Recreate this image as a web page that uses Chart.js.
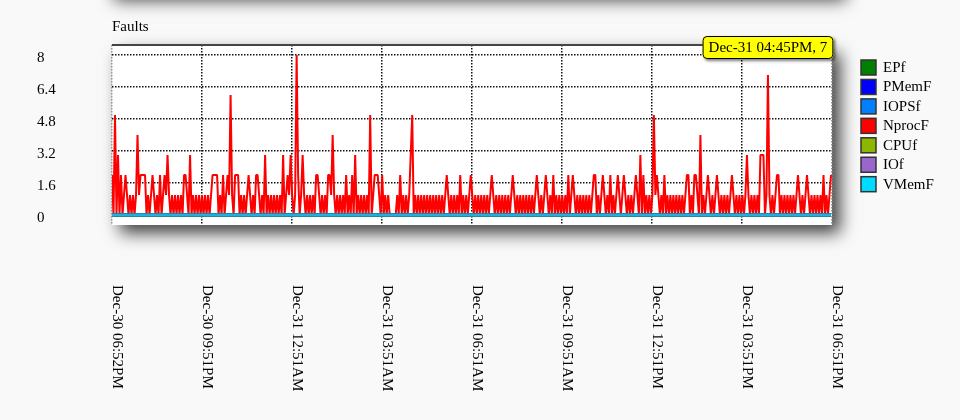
<!DOCTYPE html>
<html>
<head>
<title>Faults</title>
<script src="https://cdn.jsdelivr.net/npm/chart.js@4.4.1/dist/chart.umd.min.js"></script>
<style>
    html, body { margin: 0; padding: 0; background: #f9f9f9; }
    canvas { display: block; }
</style>
</head>
<body>
<canvas id="chart" width="960" height="420"></canvas>
<script>
// series shown in the legend, in legend order
const seriesNames = ['EPf', 'PMemF', 'IOPSf', 'NprocF', 'CPUf', 'IOf', 'VMemF']
const legendColors = ['#008000', '#0000ff', '#0080ff', '#ff0000', '#8db600', '#9966cc', '#00dcff']
const lineColors = ['#008000', '#0000ff', '#0080ff', '#ff0000', '#8db600', '#9966cc', '#1fb0e0']

const yTicks = [0, 1.6, 3.2, 4.8, 6.4, 8]
// minutes after the first sample (Dec-30 06:52PM)
const xTickMinutes = [0, 179, 359, 539, 719, 899, 1079, 1259, 1439]
const xTickLabels = [
    'Dec-30 06:52PM', 'Dec-30 09:51PM', 'Dec-31 12:51AM', 'Dec-31 03:51AM', 'Dec-31 06:51AM',
    'Dec-31 09:51AM', 'Dec-31 12:51PM', 'Dec-31 03:51PM', 'Dec-31 06:51PM',
]
const sampleStep = 3 // minutes between samples

// NprocF faults per sample
const nprocF = [
    2, 0, 5, 0, 3, 0, 2, 0, 1, 2, 1, 0, 1, 0, 1, 0, 1, 4, 1, 2,
    2, 2, 2, 0, 1, 0, 1, 2, 1, 0, 1, 0, 2, 0, 1, 2, 1, 3, 1, 0,
    1, 0, 1, 0, 1, 0, 1, 0, 2, 2, 1, 0, 3, 0, 1, 0, 1, 0, 1, 0,
    1, 0, 1, 0, 1, 0, 1, 2, 2, 2, 2, 0, 1, 0, 2, 0, 1, 2, 1, 6,
    1, 0, 2, 2, 2, 0, 1, 0, 1, 0, 1, 2, 1, 0, 1, 0, 2, 2, 1, 0,
    1, 0, 3, 0, 1, 0, 1, 0, 1, 0, 1, 0, 1, 0, 3, 0, 1, 2, 1, 3,
    1, 0, 1, 8, 2, 0, 1, 3, 1, 0, 1, 0, 1, 0, 1, 0, 2, 2, 1, 0,
    1, 0, 1, 0, 2, 2, 1, 4, 1, 0, 1, 0, 1, 0, 1, 0, 2, 0, 1, 0,
    2, 0, 3, 0, 1, 0, 1, 0, 1, 0, 1, 0, 5, 0, 1, 2, 2, 2, 1, 0,
    2, 0, 1, 0, 1, 0, 0, 0, 0, 0, 1, 0, 2, 0, 1, 0, 1, 0, 1, 3,
    5, 0, 1, 0, 1, 0, 1, 0, 1, 0, 1, 0, 1, 0, 1, 0, 1, 0, 1, 0,
    1, 0, 1, 2, 1, 0, 1, 0, 1, 0, 1, 0, 2, 0, 1, 0, 1, 0, 1, 2,
    1, 0, 1, 0, 1, 0, 1, 0, 1, 0, 1, 0, 1, 2, 1, 0, 1, 0, 1, 0,
    1, 0, 1, 0, 1, 0, 1, 2, 1, 0, 1, 0, 1, 0, 1, 0, 1, 0, 1, 0,
    1, 0, 1, 2, 1, 0, 1, 0, 1, 2, 1, 0, 1, 0, 2, 0, 1, 0, 1, 0,
    1, 0, 1, 0, 2, 0, 1, 2, 1, 0, 1, 0, 1, 0, 1, 0, 1, 0, 1, 0,
    1, 2, 2, 0, 1, 0, 1, 2, 1, 0, 1, 0, 2, 0, 1, 0, 1, 2, 1, 0,
    1, 2, 1, 0, 1, 0, 1, 0, 1, 2, 1, 0, 3, 0, 2, 0, 1, 0, 1, 0,
    1, 5, 1, 2, 1, 0, 1, 0, 2, 0, 1, 0, 1, 0, 1, 0, 1, 0, 1, 0,
    1, 0, 1, 2, 2, 0, 1, 0, 2, 2, 1, 0, 4, 0, 1, 0, 1, 2, 1, 0,
    1, 0, 1, 2, 1, 0, 1, 0, 1, 0, 1, 0, 1, 2, 1, 0, 1, 0, 1, 0,
    1, 0, 1, 3, 1, 0, 1, 0, 1, 0, 1, 0, 3, 3, 3, 0, 1, 7, 1, 0,
    1, 0, 1, 2, 2, 0, 1, 0, 1, 0, 1, 0, 1, 0, 1, 0, 1, 2, 1, 0,
    1, 0, 1, 2, 1, 0, 1, 0, 1, 0, 1, 0, 1, 0, 2, 0, 1, 0, 1, 2,
]
// the other counters stay at zero all day
const zeroFaults = nprocF.map(() => 0)
const seriesValues = [zeroFaults, zeroFaults, zeroFaults, nprocF, zeroFaults, zeroFaults, zeroFaults]

// hovered point shown in the yellow box
const tooltipIndex = 437
const tooltipTime = 'Dec-31 04:45PM'

const serif = '"Liberation Serif", "Times New Roman", serif'

const decor = {
    id: 'decor',
    beforeDraw(chart) {
        const { ctx, chartArea: a } = chart
        ctx.save()
        ctx.fillStyle = '#f9f9f9'
        ctx.fillRect(0, 0, chart.width, chart.height)
        ctx.shadowColor = 'rgba(0,0,0,0.75)'
        ctx.shadowBlur = 16
        ctx.shadowOffsetX = 8
        ctx.shadowOffsetY = 8
        // panel above the chart, only its shadow shows
        ctx.fillRect(a.left - 6, -70, a.right - a.left + 12, 62)
        // plot box
        ctx.fillStyle = '#ffffff'
        ctx.fillRect(a.left, a.top, a.right - a.left, a.bottom - a.top)
        ctx.restore()
    },
    afterDatasetsDraw(chart) {
        const { ctx, chartArea: a } = chart
        ctx.save()
        ctx.strokeStyle = '#444'
        ctx.lineWidth = 2
        ctx.beginPath()
        ctx.moveTo(a.left, a.top)
        ctx.lineTo(a.right, a.top)
        ctx.stroke()
        ctx.restore()
    },
    afterDraw(chart) {
        const { ctx, chartArea: a } = chart
        const xs = chart.scales.x
        const ys = chart.scales.y
        ctx.save()
        ctx.font = '15px ' + serif
        ctx.fillStyle = '#000'

        // title
        ctx.textAlign = 'left'
        ctx.textBaseline = 'alphabetic'
        ctx.fillText('Faults', a.left, a.top - 14)

        // y labels, left aligned, sitting a little under their grid line
        ctx.textBaseline = 'middle'
        yTicks.forEach(v => {
            ctx.fillText(String(v), 37, ys.getPixelForValue(v) + 3)
        })

        // x labels, rotated clockwise
        xTickMinutes.forEach((m, i) => {
            const px = xs.getPixelForValue(m)
            ctx.save()
            ctx.translate(px + 1, a.bottom + 60)
            ctx.rotate(Math.PI / 2)
            ctx.textBaseline = 'alphabetic'
            ctx.fillText(xTickLabels[i], 0, 0)
            ctx.restore()
        })

        // legend
        ctx.textBaseline = 'middle'
        seriesNames.forEach((name, i) => {
            const lx = a.right + 29
            const ly = a.top + 15 + i * 19.45
            ctx.fillStyle = legendColors[i]
            ctx.fillRect(lx, ly, 15, 15)
            ctx.strokeStyle = '#333'
            ctx.lineWidth = 1.5
            ctx.strokeRect(lx, ly, 15, 15)
            ctx.fillStyle = '#000'
            ctx.fillText(name, lx + 22, ly + 8)
        })

        // tooltip box
        const px = xs.getPixelForValue(tooltipIndex * sampleStep)
        const text = tooltipTime + ', ' + nprocF[tooltipIndex]
        const w = ctx.measureText(text).width + 12
        const bx = px - w / 2
        const by = a.top - 9
        const bh = 23
        ctx.save()
        ctx.shadowColor = 'rgba(0,0,0,0.5)'
        ctx.shadowBlur = 3
        ctx.shadowOffsetX = 2
        ctx.shadowOffsetY = 2
        ctx.beginPath()
        ctx.roundRect(bx, by, w, bh, 4)
        ctx.fillStyle = '#ffff00'
        ctx.fill()
        ctx.restore()
        ctx.beginPath()
        ctx.roundRect(bx + 0.5, by + 0.5, w - 1, bh - 1, 4)
        ctx.strokeStyle = '#000'
        ctx.lineWidth = 1
        ctx.stroke()
        ctx.fillStyle = '#000'
        ctx.textAlign = 'center'
        ctx.textBaseline = 'middle'
        ctx.fillText(text, px, by + bh / 2 + 1)
        ctx.restore()
    },
}

const datasets = seriesNames.map((name, i) => ({
    label: name,
    data: seriesValues[i].map((v, j) => ({ x: j * sampleStep, y: v })),
    borderColor: lineColors[i],
    backgroundColor: legendColors[i],
    borderWidth: name === 'NprocF' ? 2 : 3,
    borderJoinStyle: 'bevel',
    pointRadius: 0,
    tension: 0,
    fill: false,
    order: name === 'VMemF' ? -1 : 1,
}))

const edgeGrid = ctx => (ctx.index === 0 || ctx.index === xTickMinutes.length - 1 ? '#999' : '#111')

new Chart('chart', {
    type: 'line',
    data: { datasets },
    options: {
        responsive: false,
        animation: false,
        events: [],
        layout: { padding: { left: 37, top: 45, right: 128, bottom: 0 } },
        plugins: {
            legend: { display: false },
            tooltip: { enabled: false },
        },
        scales: {
            x: {
                type: 'linear',
                min: 0,
                max: 1439,
                afterBuildTicks: s => { s.ticks = xTickMinutes.map(v => ({ value: v })) },
                afterFit: s => { s.height = 195 },
                ticks: { display: false },
                border: { display: false, dash: [1.5, 1.5] },
                grid: { color: edgeGrid, lineWidth: 1.5, drawTicks: false },
            },
            y: {
                min: -0.5,
                max: 8.5,
                afterBuildTicks: s => { s.ticks = yTicks.map(v => ({ value: v })) },
                afterFit: s => { s.width = 75 },
                ticks: { display: false },
                border: { display: false, dash: [1.5, 1.5] },
                grid: { color: '#111', lineWidth: 1.5, drawTicks: false },
            },
        },
    },
    plugins: [decor],
})
</script>
</body>
</html>
